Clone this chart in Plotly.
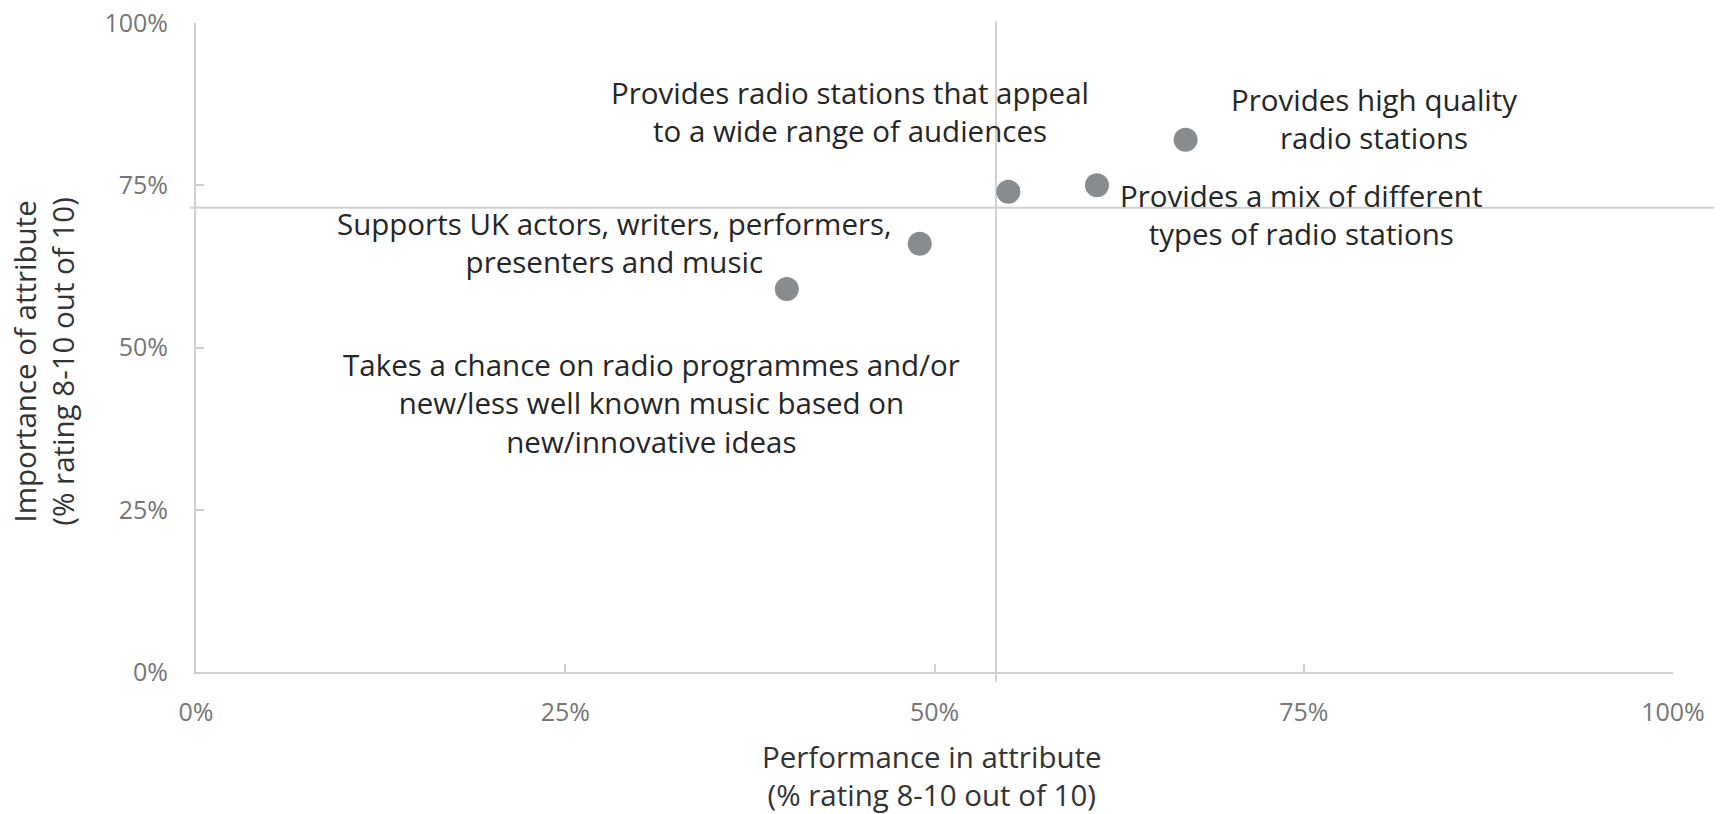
import plotly.graph_objects as go

# Attribute names (line breaks as shown on the chart)
attributes = [
    "Provides high quality<br>radio stations",
    "Provides a mix of different<br>types of radio stations",
    "Provides radio stations that appeal<br>to a wide range of audiences",
    "Supports UK actors, writers, performers,<br>presenters and music",
    "Takes a chance on radio programmes and/or<br>new/less well known music based on<br>new/innovative ideas",
]
# Performance (% rating 8-10) and importance (% rating 8-10)
performance = [0.67, 0.61, 0.55, 0.49, 0.40]
importance = [0.82, 0.75, 0.74, 0.66, 0.59]

# Quadrant divider values (averages)
avg_performance = 0.5416
avg_importance = 0.7155

tick_vals = [0, 0.25, 0.5, 0.75, 1.0]
tick_text = ["0%", "25%", "50%", "75%", "100%"]

# Label placement relative to each point, in pixels
label_dx = [188, 204, -158, -305, -135]
label_dy = [21, -29, 80, 1, -114]

FONT = "Open Sans"
AXIS_GREY = "#d0d0d0"
LABEL_SIZE = 29.5

fig = go.Figure()
fig.add_trace(go.Scatter(
    x=performance, y=importance, mode="markers",
    marker=dict(size=24, color="#898c8f"),
    hoverinfo="text", hovertext=[a.replace("<br>", " ") for a in attributes],
    cliponaxis=False, showlegend=False,
))

annotations = []
for x, y, txt, dx, dy in zip(performance, importance, attributes, label_dx, label_dy):
    annotations.append(dict(
        x=x, y=y, xref="x", yref="y", text=txt, showarrow=False,
        xshift=dx, yshift=dy, xanchor="center", yanchor="middle",
        align="center", font=dict(family=FONT, size=LABEL_SIZE, color="#262626"),
    ))

annotations.append(dict(
    x=0.498, y=-0.160, xref="paper", yref="paper",
    text="Performance in attribute<br>(% rating 8-10 out of 10)",
    showarrow=False, xanchor="center", yanchor="middle",
    font=dict(family=FONT, size=LABEL_SIZE, color="#333333"),
))
annotations.append(dict(
    x=-0.103, y=0.478, xref="paper", yref="paper",
    text="Importance of attribute<br>(% rating 8-10 out of 10)",
    showarrow=False, xanchor="center", yanchor="middle", textangle=-90,
    font=dict(family=FONT, size=LABEL_SIZE, color="#333333"),
))

shapes = [
    # vertical divider
    dict(type="line", xref="x", yref="paper", x0=avg_performance, x1=avg_performance,
         y0=-0.015, y1=1.003, line=dict(color=AXIS_GREY, width=2), layer="below"),
    # horizontal divider
    dict(type="line", xref="paper", yref="y", x0=-0.004, x1=1.028,
         y0=avg_importance, y1=avg_importance, line=dict(color=AXIS_GREY, width=2), layer="below"),
]

axis_common = dict(
    range=[0, 1], tickvals=tick_vals, ticktext=tick_text,
    showgrid=False, zeroline=False, showline=True, linecolor=AXIS_GREY, linewidth=2,
    ticks="inside", ticklen=8, tickwidth=2, tickcolor=AXIS_GREY,
    tickfont=dict(family=FONT, size=25, color="#767676"),
    fixedrange=True, automargin=False,
)

fig.update_layout(
    width=1720, height=814,
    margin=dict(l=196, r=47, t=23, b=142),
    plot_bgcolor="white", paper_bgcolor="white",
    xaxis=dict(**axis_common, ticklabelstandoff=17),
    yaxis=dict(**axis_common, ticklabelstandoff=21),
    shapes=shapes, annotations=annotations,
    showlegend=False,
)

fig.write_html("out.html")
